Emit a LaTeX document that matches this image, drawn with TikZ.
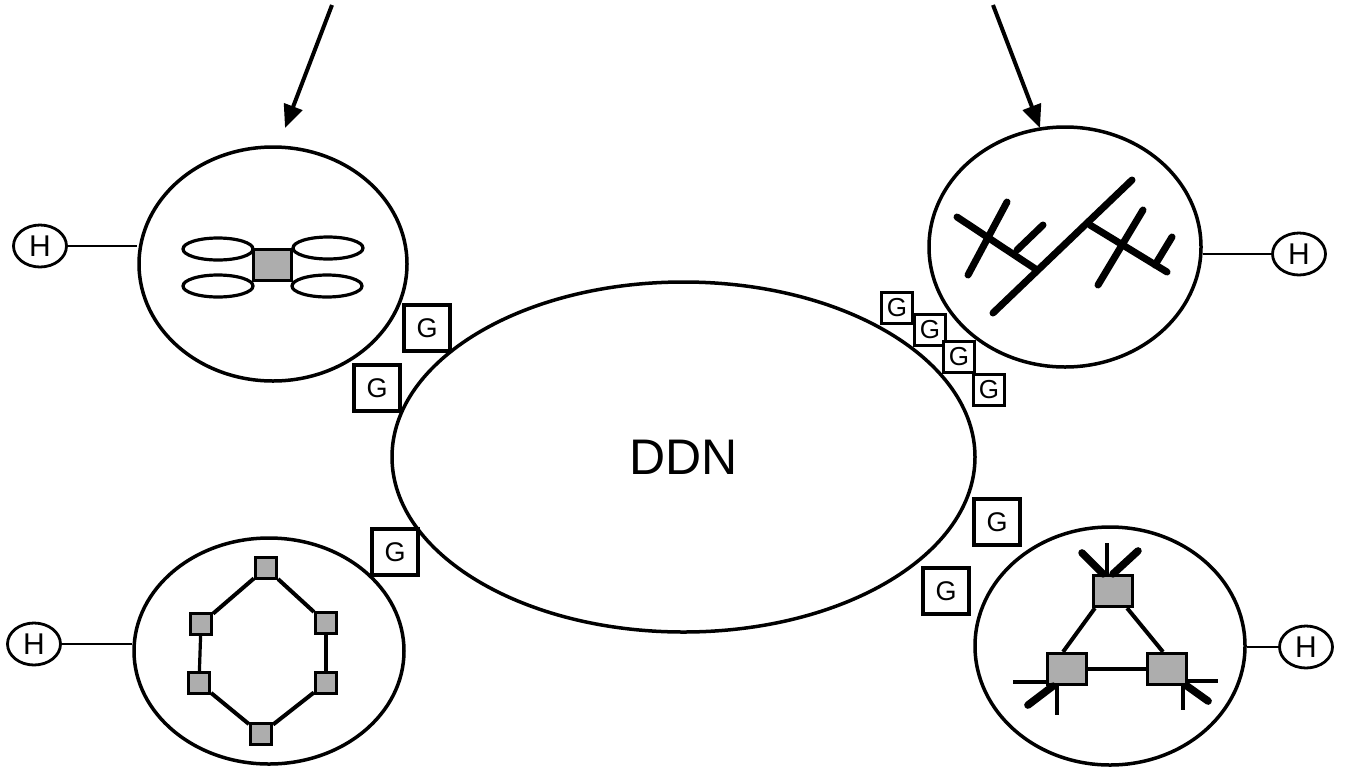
\documentclass[tikz,border=0pt]{standalone}
\usepackage{fontspec}
\setmainfont{Liberation Sans}
\usetikzlibrary{shapes.geometric,arrows.meta}
\definecolor{stipple}{gray}{0.68}
\begin{document}
\begin{tikzpicture}[x=1pt,y=-1pt,
  cluster/.style={draw, ellipse, line width=3.5pt, inner sep=0pt},
  hostnode/.style={draw, ellipse, line width=2.8pt, minimum width=53pt, minimum height=42pt, inner sep=0pt, font=\fontsize{30}{30}\selectfont},
  hostlink/.style={line width=2.2pt},
  gate/.style={draw, fill=white, line width=3.2pt, minimum size=46pt, inner sep=0pt, font=\fontsize{27}{27}\selectfont},
  smallgate/.style={draw, fill=white, line width=2.8pt, minimum size=31pt, inner sep=0pt, font=\fontsize{26}{26}\selectfont},
  switchbox/.style={draw, fill=stipple, line width=3.2pt, inner sep=0pt},
  lanring/.style={draw, ellipse, line width=3.2pt, minimum width=70pt, minimum height=22pt, inner sep=0pt},
  link/.style={line width=4pt},
  thinlink/.style={line width=3.2pt},
  bus/.style={line width=7pt, line cap=round},
  stubthin/.style={line width=4.5pt},
  stubthick/.style={line width=7.5pt, line cap=round},
  feed/.style={line width=4pt, -{Triangle[length=23pt,width=19pt]}}
]
\useasboundingbox (0,0) rectangle (1354,769);

% backbone
\node[cluster, minimum width=583pt, minimum height=350pt,
      font=\fontsize{50}{50}\selectfont] (ddn) at (683.5,457) {DDN};

% attached networks
\node[cluster, minimum width=268pt, minimum height=234pt] (c1) at (273,264) {};
\node[cluster, minimum width=272pt, minimum height=240pt] (c2) at (1065,247) {};
\node[cluster, minimum width=270pt, minimum height=226pt] (c3) at (269,651) {};
\node[cluster, minimum width=270pt, minimum height=238pt] (c4) at (1110,646) {};

% hosts
\node[hostnode] (h1) at (40,246) {H};
\node[hostnode] (h2) at (1299,254) {H};
\node[hostnode] (h3) at (34,644) {H};
\node[hostnode] (h4) at (1306,647) {H};
\draw[hostlink] (h1.east) -- (h1.east -| c1.west);
\draw[hostlink] (h2.west) -- (h2.west -| c2.east);
\draw[hostlink] (h3.east) -- (h3.east -| c3.west);
\draw[hostlink] (h4.west) -- (h4.west -| c4.east);

% gateways
\node[gate] (g1) at (427,328) {G};
\node[gate] (g2) at (377,388) {G};
\node[gate] (g3) at (395,552) {G};
\node[gate] (g4) at (997,522) {G};
\node[gate] (g5) at (946,591) {G};
\node[smallgate] (s1) at (897,308) {G};
\node[smallgate] (s2) at (930,330) {G};
\node[smallgate] (s3) at (959,357) {G};
\node[smallgate] (s4) at (989,390) {G};

% incoming arrows
\coordinate (a1) at (332,5);
\coordinate (a1tip) at (285,128);
\coordinate (a2) at (993,5);
\coordinate (a2tip) at (1040,128);
\draw[feed] (a1) -- (a1tip);
\draw[feed] (a2) -- (a2tip);

% star of rings around a hub
\node[lanring] (r1) at (218,249) {};
\node[lanring] (r2) at (218,286) {};
\node[lanring] (r3) at (328,248) {};
\node[lanring] (r4) at (327,286) {};
\node[switchbox, minimum width=38pt, minimum height=31pt] (hub) at (272.5,265) {};

% branching bus
\draw[bus] (993,313) -- (1132,180);
\draw[bus] (957,217) -- (1037,270);
\draw[bus] (1007,202) -- (968,275);
\draw[bus] (1043,225) -- (1017,250);
\draw[bus] (1090,225) -- (1167,272);
\draw[bus] (1143,210) -- (1098,285);
\draw[bus] (1172,237) -- (1155,265);

% ring of switches
\node[switchbox, minimum size=21pt] (v1) at (266,568) {};
\node[switchbox, minimum size=21pt] (v2) at (201,624) {};
\node[switchbox, minimum size=21pt] (v3) at (326,623) {};
\node[switchbox, minimum size=21pt] (v4) at (199,683) {};
\node[switchbox, minimum size=21pt] (v5) at (326,683) {};
\node[switchbox, minimum size=21pt] (v6) at (261,734) {};
\draw[link] (v1) -- (v2);
\draw[thinlink] (v2) -- (v4);
\draw[link] (v4) -- (v6);
\draw[link] (v6) -- (v5);
\draw[thinlink] (v5) -- (v3);
\draw[link] (v3) -- (v1);

% triangle of switches
\node[switchbox, minimum width=39pt, minimum height=31pt] (t1) at (1113,591) {};
\node[switchbox, minimum width=39pt, minimum height=31pt] (t2) at (1067,669) {};
\node[switchbox, minimum width=39pt, minimum height=31pt] (t3) at (1167,669) {};
\draw[link] ([xshift=3pt]t1.south west) -- ([xshift=-4pt]t2.north);
\draw[link] ([xshift=-7pt]t1.south east) -- ([xshift=-4pt]t3.north);
\draw[thinlink] (t2.east) -- (t3.west);
% trunk stubs
\draw[stubthin] ([xshift=-6pt]t1.north) -- ++(0,-31);
\draw[stubthick] ([xshift=-10pt]t1.north) -- ++(-21,-21);
\draw[stubthick] (t1.north) -- ++(25,-23);
\draw[stubthin] ([yshift=-13pt]t2.west) -- ++(-33,0);
\draw[stubthick] ([xshift=7pt]t2.south west) -- ++(-25,19);
\draw[stubthin] ([xshift=-10pt]t2.south) -- ++(0,29);
\draw[stubthin] ([yshift=-12pt]t3.east) -- ++(30,0);
\draw[stubthick] ([xshift=-1pt]t3.south east) -- ++(21,15);
\draw[stubthin] ([xshift=-5pt]t3.south east) -- ++(0,24);
\end{tikzpicture}
\end{document}
